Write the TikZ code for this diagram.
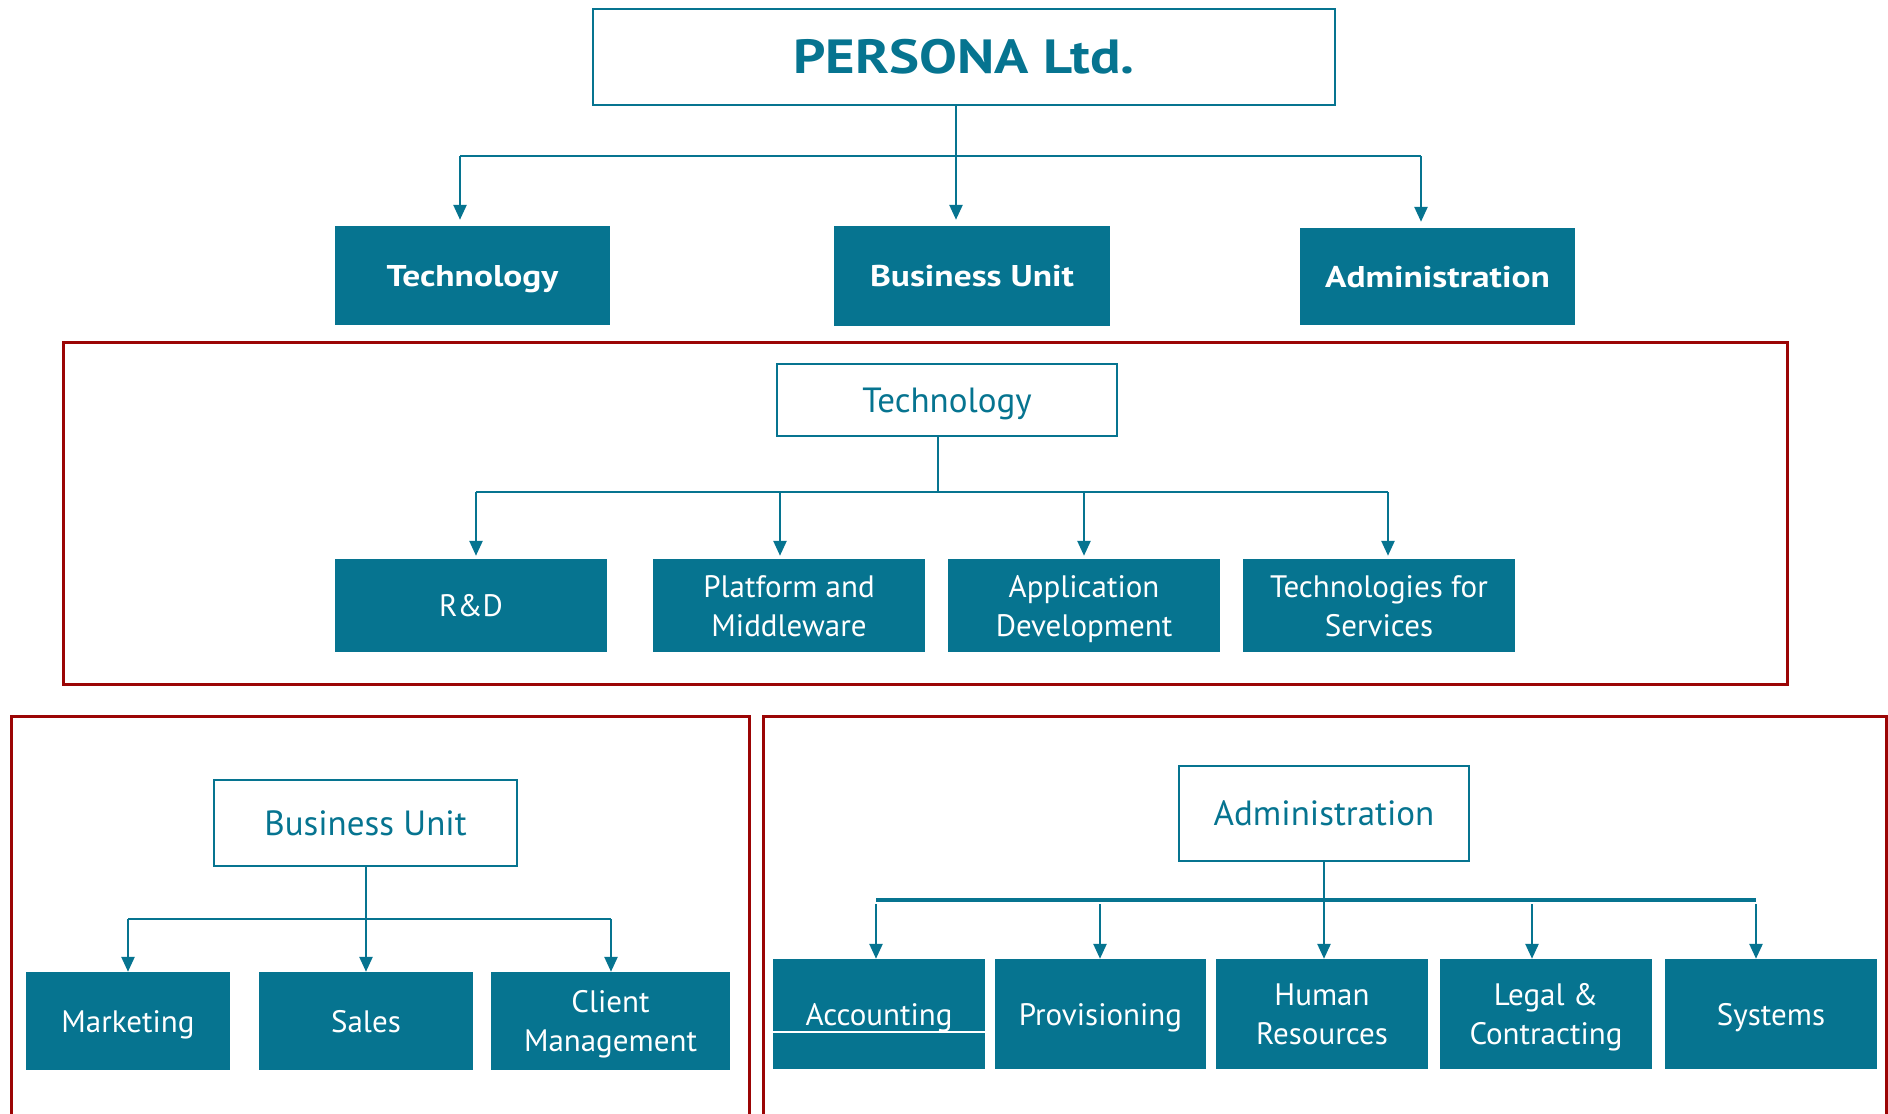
\documentclass[tikz,border=0pt]{standalone}
\usepackage{fontspec}
\setmainfont{PT Sans}
\newfontfamily\widebold[FakeStretch=1.18]{PT Sans Bold}
\usetikzlibrary{arrows.meta}
\definecolor{teal1}{RGB}{6,116,144}
\definecolor{frame}{RGB}{155,5,5}
\begin{document}
\begin{tikzpicture}[x=1pt,y=-1pt,
  dept/.style={fill=teal1,text=white,inner sep=0pt,align=center,font=\fontsize{31}{39}\selectfont,text height=22pt,text depth=0pt},
  dept2/.style={dept,text height=61pt,text depth=0pt},
  topbox/.style={fill=teal1,text=white,inner sep=0pt,font=\widebold\fontsize{30}{36}\selectfont,text height=21pt,text depth=0pt},
  hdr/.style={draw=teal1,line width=2.5pt,fill=white,text=teal1,inner sep=0pt,font=\fontsize{35}{42}\selectfont,text height=24.5pt,text depth=0pt},
  conn/.style={draw=teal1,line width=2.5pt},
  arr/.style={conn,-{Triangle[width=13pt,length=15pt]}},
  frm/.style={draw=frame,line width=3pt}]
\useasboundingbox (0,0) rectangle (1888,1114);
\fill[white] (0,0) rectangle (1888,1114);

% ---------- top level ----------
\node[draw=teal1,line width=2.5pt,text=teal1,inner sep=0pt,minimum width=742pt,minimum height=96pt,
      font=\widebold\fontsize{48}{56}\selectfont,text height=33pt,text depth=0pt] (title) at (964,57) {PERSONA Ltd.};
\node[topbox,minimum width=275pt,minimum height=99pt] (tech) at (472.5,275.5) {Technology};
\node[topbox,minimum width=276pt,minimum height=100pt] (bu) at (972,276) {Business Unit};
\node[topbox,minimum width=275pt,minimum height=97pt] (adm) at (1437.5,276.5) {Administration};

\coordinate (tj) at (956,156);
\coordinate (tl) at (460,156);
\coordinate (tr) at (1421,156);
\draw[conn] (title.south -| tj) -- (tj);
\draw[conn] (tl) -- (tr);
\draw[arr,shorten >=6pt] (tl) -- (tl |- tech.north);
\draw[arr,shorten >=6pt] (tj) -- (tj |- bu.north);
\draw[arr,shorten >=6pt] (tr) -- (tr |- adm.north);

% ---------- Technology section ----------
\draw[frm] (63,342) rectangle (1787,684);
\node[hdr,minimum width=340pt,minimum height=72pt] (th) at (947,400) {Technology};
\node[dept,minimum width=272pt,minimum height=93pt] (rd) at (471,605.5) {R\&D};
\node[dept2,minimum width=272pt,minimum height=93pt] (pm) at (789,605.5) {Platform and\\Middleware};
\node[dept2,minimum width=272pt,minimum height=93pt] (ad) at (1084,605.5) {Application\\Development};
\node[dept2,minimum width=272pt,minimum height=93pt] (ts) at (1379,605.5) {Technologies for\\Services};

\coordinate (hj) at (938,492);
\coordinate (h1) at (476,492);
\coordinate (h2) at (780,492);
\coordinate (h3) at (1084,492);
\coordinate (h4) at (1388,492);
\draw[conn] (th.south -| hj) -- (hj);
\draw[conn] (h1) -- (h4);
\draw[arr,shorten >=3pt] (h1) -- (h1 |- rd.north);
\draw[arr,shorten >=3pt] (h2) -- (h2 |- pm.north);
\draw[arr,shorten >=3pt] (h3) -- (h3 |- ad.north);
\draw[arr,shorten >=3pt] (h4) -- (h4 |- ts.north);

% ---------- Business Unit section ----------
\draw[frm] (11,1130) -- (11,716) -- (749,716) -- (749,1130);
\node[hdr,minimum width=303pt,minimum height=86pt] (bh) at (365.5,823) {Business Unit};
\node[dept,minimum width=204pt,minimum height=98pt] (mk) at (128,1021) {Marketing};
\node[dept,minimum width=214pt,minimum height=98pt] (sl) at (366,1021) {Sales};
\node[dept2,minimum width=239pt,minimum height=98pt] (cm) at (610.5,1021) {Client\\Management};

\coordinate (bj) at (366,919);
\coordinate (b1) at (128,919);
\coordinate (b3) at (611,919);
\draw[conn] (b1) -- (b3);
\draw[arr] (b1) -- (b1 |- mk.north);
\draw[arr] (bh.south -| bj) -- (bj |- sl.north);
\draw[arr] (b3) -- (b3 |- cm.north);

% ---------- Administration section ----------
\draw[frm] (763,1130) -- (763,716) -- (1886,716) -- (1886,1130);
\node[hdr,minimum width=290pt,minimum height=95pt] (ah) at (1324,813.5) {Administration};
\node[dept,minimum width=212pt,minimum height=110pt] (ac) at (879,1014) {Accounting};
\node[dept,minimum width=211pt,minimum height=110pt] (pv) at (1100.5,1014) {Provisioning};
\node[dept2,minimum width=212pt,minimum height=110pt] (hr) at (1322,1014) {Human\\Resources};
\node[dept2,minimum width=212pt,minimum height=110pt] (lc) at (1546,1014) {Legal \&\\Contracting};
\node[dept,minimum width=212pt,minimum height=110pt] (sy) at (1771,1014) {Systems};
\draw[white,line width=1.5pt] (ac.west |- 0,1032) -- (ac.east |- 0,1032);

\coordinate (a1) at (876,900);
\coordinate (a2) at (1100,900);
\coordinate (aj) at (1324,900);
\coordinate (a4) at (1532,900);
\coordinate (a5) at (1756,900);
\draw[conn,line width=4pt] (a1) -- (a5);
\draw[arr] ([yshift=-4pt]a1) -- (a1 |- ac.north);
\draw[arr] ([yshift=-4pt]a2) -- (a2 |- pv.north);
\draw[arr] (ah.south -| aj) -- (aj |- hr.north);
\draw[arr] ([yshift=-4pt]a4) -- (a4 |- lc.north);
\draw[arr] ([yshift=-4pt]a5) -- (a5 |- sy.north);
\end{tikzpicture}
\end{document}
